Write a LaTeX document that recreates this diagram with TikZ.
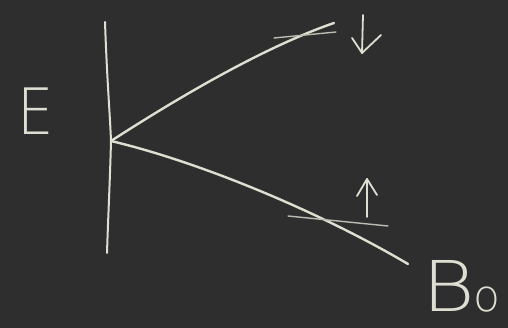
\documentclass[tikz,border=0pt]{standalone}
\usepackage{fontspec}
\newfontfamily\chalkfont{DejaVu Sans ExtraLight}
\definecolor{board}{RGB}{46,46,46}
\definecolor{chalk}{RGB}{222,222,210}
\begin{document}
\begin{tikzpicture}[x=1pt,y=-1pt,
  chalkline/.style={draw=chalk,line width=2.4pt,line cap=round,line join=round},
  thinline/.style={draw=chalk!80!board,line width=1.4pt,line cap=round},
  arrowline/.style={draw=chalk,line width=1.8pt,line cap=round,line join=round},
  chalktext/.style={text=chalk,inner sep=0pt,font=\chalkfont}]
\fill[board] (0,0) rectangle (508,328);
\useasboundingbox (0,0) rectangle (508,328);
% key points
\coordinate (J) at (111,141);
\coordinate (T) at (105,22);
\coordinate (Bt) at (107,253);
\coordinate (U) at (334,23);
\coordinate (L) at (408,264);
% vertical axis
\draw[chalkline,line width=2pt] (T) .. controls (107,80) and (110,115) .. (J)
  .. controls (110,180) and (108,220) .. (Bt);
% upper branch
\draw[chalkline] (J) .. controls (190,90) and (270,45) .. (U);
% lower branch
\draw[chalkline] (J) .. controls (200,162) and (320,212) .. (L);
% tangent marks
\coordinate (ua) at (274,38); \coordinate (ub) at (336,32);
\draw[thinline] (ua) -- (ub);
\coordinate (la) at (288,216); \coordinate (lb) at (388,226);
\draw[thinline] (la) -- (lb);
% down arrow
\coordinate (dT) at (363,15); \coordinate (dB) at (362,53);
\coordinate (dl) at (352,38); \coordinate (dr) at (381,35);
\draw[arrowline] (dT) -- (dB);
\draw[arrowline] (dl) -- (dB) -- (dr);
% up arrow
\coordinate (uB) at (367,217); \coordinate (uT) at (367,179);
\coordinate (ul) at (357,196); \coordinate (ur) at (377,195);
\draw[arrowline] (uB) -- (uT);
\draw[arrowline] (ul) -- (uT) -- (ur);
% labels
\node[chalktext,anchor=base west,xscale=0.9] (E) at (17,135) {\fontsize{64}{64}\selectfont E};
\node[chalktext,anchor=base west] (B0) at (422,312) {\fontsize{70}{70}\selectfont \scalebox{1.15}[1]{B}\kern-1pt{\fontsize{44}{44}\selectfont o}};
\end{tikzpicture}
\end{document}
